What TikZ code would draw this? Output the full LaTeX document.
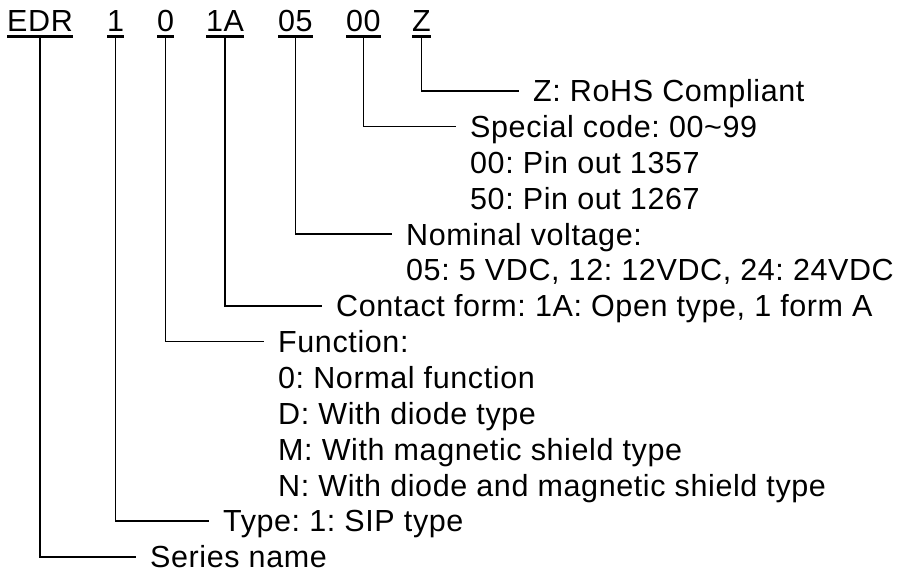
\documentclass[tikz,border=0pt]{standalone}
\usepackage{fontspec}
\setmainfont{Liberation Sans}[LetterSpace=2]
\frenchspacing
\begin{document}
\begin{tikzpicture}[x=1pt,y=-1pt,
  txt/.style={font=\fontsize{30.5}{36}\selectfont, inner sep=0pt, anchor=base west},
  code/.style={txt, text height=22pt, text depth=4.5pt},
  lab/.style={txt, text height=22pt, text depth=0pt},
  conn/.style={line width=1.6pt, shorten >=14pt},
  uline/.style={line width=2.7pt}]
\useasboundingbox (0,0) rectangle (904,574);

% code parts
\node[code] (edr) at (7,31.5) {EDR};
\node[code] (one) at (107,31.5) {1};
\node[code] (zero) at (157,31.5) {0};
\node[code] (oneA) at (206,31.5) {1A};
\node[code] (ofive) at (278,31.5) {05};
\node[code] (ozero) at (346,31.5) {00};
\node[code] (zed) at (412,31.5) {Z};
\foreach \n in {edr,one,zero,oneA,ofive,ozero,zed}
  \draw[uline] (\n.south west) -- (\n.south east);

% labels
\node[lab] (zlab) at (533,101.7) {Z: RoHS Compliant};
\node[lab] (special) at (470,137.55) {Special code: 00\textasciitilde 99};
\node[lab] (pin1) at (470,173.4) {00: Pin out 1357};
\node[lab] (pin2) at (470,209.25) {50: Pin out 1267};
\node[lab] (nominal) at (406,245.1) {Nominal voltage:};
\node[lab] (volts) at (406,280.95) {05: 5 VDC, 12: 12VDC, 24: 24VDC};
\node[lab] (contact) at (336,316.8) {Contact form: 1A: Open type, 1 form A};
\node[lab] (func) at (278,352.65) {Function:};
\node[lab] (f0) at (278,388.5) {0: Normal function};
\node[lab] (fD) at (278,424.35) {D: With diode type};
\node[lab] (fM) at (278,460.2) {M: With magnetic shield type};
\node[lab] (fN) at (278,496.05) {N: With diode and magnetic shield type};
\node[lab] (type) at (223,531.9) {Type: 1: SIP type};
\node[lab] (series) at (150,567.75) {Series name};

% connectors
\draw[conn] (zed.south) |- (zlab.west);
\draw[conn] (ozero.south) |- (special.west);
\draw[conn] (ofive.south) |- (nominal.west);
\draw[conn] (oneA.south) |- (contact.west);
\draw[conn] (zero.south) |- (func.west);
\draw[conn] (one.south) |- (type.west);
\draw[conn] (edr.south) |- (series.west);
\end{tikzpicture}
\end{document}
